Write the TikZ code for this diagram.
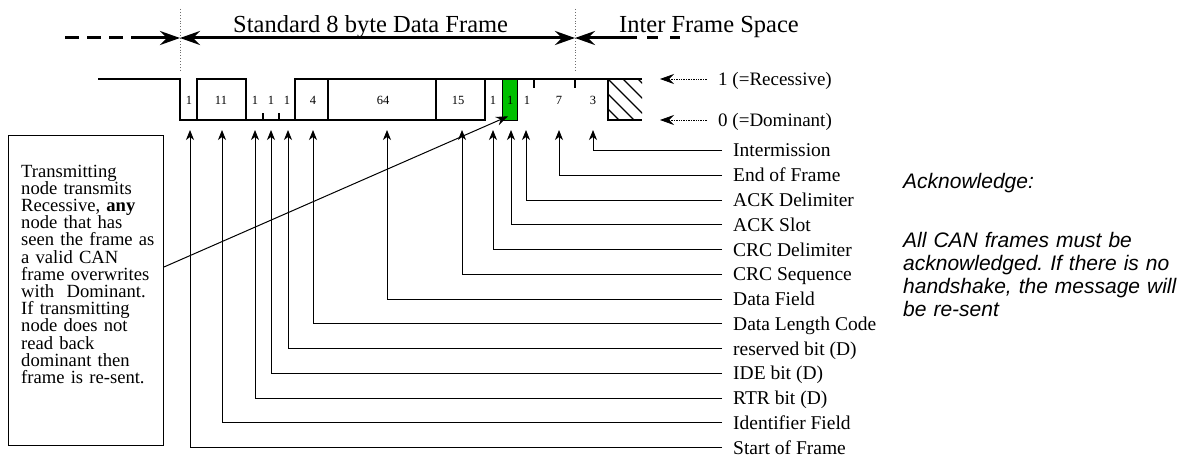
\documentclass[tikz,border=0pt]{standalone}
\usepackage{fontspec}
\setmainfont{Liberation Serif}
\newfontfamily\arialfont{Liberation Sans}
\usetikzlibrary{arrows.meta}
\definecolor{ackgreen}{RGB}{0,192,0}
\definecolor{dotgray}{RGB}{110,110,110}
\frenchspacing
\tikzset{
  sig/.style={line width=1.3pt, line join=miter},
  lead/.style={line width=0.9pt, -{Stealth[length=10pt,width=8pt,inset=3pt]}},
  lbl/.style={anchor=west, inner xsep=11pt, inner ysep=0pt, text height=13pt, text depth=0pt, font=\fontsize{19.5}{24}\selectfont},
  bitnum/.style={font=\fontsize{12.5}{14}\selectfont, inner sep=0pt},
  bigline/.style={line width=3pt},
  bigtip/.tip={Stealth[length=20pt,width=14pt,inset=7pt]},
  lvl/.style={densely dotted, line width=0.7pt, -{Stealth[length=14pt,width=10pt,inset=5pt]}},
  lvllbl/.style={anchor=west, inner xsep=11pt, inner ysep=0pt, text height=13pt, text depth=0pt, font=\fontsize{19}{24}\selectfont},
  title/.style={font=\fontsize{24.5}{28}\selectfont, inner sep=0pt, anchor=base west},
  divider/.style={dotted, dotgray, line width=0.9pt},
}
\begin{document}
\begin{tikzpicture}[x=1pt,y=-1pt]
\useasboundingbox (0,0) rectangle (1186,457);

% titles
\node[title] (tframe) at (233,33) {Standard 8 byte Data Frame};
\node[title] (tifs) at (619,33) {Inter Frame Space};

% dotted dividers
\draw[divider] (180,9) -- (180,72);
\draw[divider] (575,9) -- (575,72);

% big arrows
\coordinate (sofline) at (180,38);
\coordinate (eofline) at (575,38);
\coordinate (ldash) at (65,38);
\coordinate (lsolid) at (132,38);
\coordinate (rsolid) at (637,38);
\coordinate (rdash) at (647,38);
\coordinate (rend) at (680,38);
\draw[bigline, dash pattern=on 14pt off 8pt] (ldash) -- (lsolid);
\draw[bigline, -bigtip] (lsolid) -- (sofline);
\draw[bigline, bigtip-bigtip] (sofline) -- (eofline);
\draw[bigline, bigtip-] (eofline) -- (rsolid);
\draw[bigline, dash pattern=on 11pt off 12pt] (rdash) -- (rend);

% signal
\draw[sig] (98,79) -- (180,79) -- (180,120) -- (197,120) -- (197,79) -- (246,79) -- (246,120) -- (295,120) -- (295,79) -- (642,79);
\draw[sig] (197,120) -- (246,120);
\draw[sig] (295,120) -- (485,120) -- (485,79);
\draw[sig] (328,79) -- (328,120);
\draw[sig] (436,79) -- (436,120);
\draw[sig] (263,120) -- (263,113);
\draw[sig] (279,120) -- (279,113);
\draw[sig] (534,79) -- (534,88);
\draw[sig] (575,79) -- (575,88);
\node[draw, fill=ackgreen, line width=1.3pt, minimum width=15pt, minimum height=41pt, inner sep=0pt, anchor=north west] (ack) at (502,79) {};
\draw[sig] (608,79) -- (608,120) -- (642,120);
\begin{scope}
  \clip (608,79) rectangle (642,120);
  \foreach \s in {578,593,608,623,638} {
    \draw[line width=1.2pt] (\s,79) -- (\s+45,124);
  }
\end{scope}

% bit numbers
\node[bitnum] (b1) at (189,100) {1};
\node[bitnum] (b2) at (221,100) {11};
\node[bitnum] (b3) at (255,100) {1};
\node[bitnum] (b4) at (271,100) {1};
\node[bitnum] (b5) at (287,100) {1};
\node[bitnum] (b6) at (313,100) {4};
\node[bitnum] (b7) at (383,100) {64};
\node[bitnum] (b8) at (458,100) {15};
\node[bitnum] (b9) at (493,100) {1};
\node[bitnum] (b10) at (ack) {1};
\node[bitnum] (b11) at (527,100) {1};
\node[bitnum] (b12) at (559,100) {7};
\node[bitnum] (b13) at (593,100) {3};

% level labels
\node[lvllbl] (rec) at (707,79) {1 (=Recessive)};
\node[lvllbl] (dom) at (707,120) {0 (=Dominant)};
\coordinate (rectip) at (660,79);
\coordinate (domtip) at (660,120);
\draw[lvl] (rec.west) -- (rectip);
\draw[lvl] (dom.west) -- (domtip);

% field labels with leader arrows
\foreach \x/\t [count=\k from 0] in {593/{Intermission}, 559/{End of Frame}, 526/{ACK Delimiter}, 511/{ACK Slot}, 493/{CRC Delimiter}, 462/{CRC Sequence}, 387/{Data Field}, 313/{Data Length Code}, 288/{reserved bit (D)}, 271/{IDE bit (D)}, 255/{RTR bit (D)}, 222/{Identifier Field}, 190/{Start of Frame}} {
  \node[lbl] (lab\k) at (722,150.5+24.75*\k) {\t};
  \coordinate (tip\k) at (\x,130);
  \draw[lead] (lab\k.west) -| (tip\k);
}

% note box
\node[draw, line width=1pt, minimum width=155pt, minimum height=310pt, inner sep=0pt, anchor=north west] (note) at (8,135) {};
\node[anchor=north west, inner sep=0pt, text width=145pt, align=left, font=\fontsize{18.6}{17.2}\selectfont] (notetext) at (21,164.5) {Transmitting\\node transmits\\Recessive, \textbf{any}\\node that has\\seen the frame as\\a valid CAN\\frame overwrites\\with~ Dominant.\\If transmitting\\node does not\\read back\\dominant then\\frame is re-sent.};
\coordinate (acktip) at ([shift={(6,-5)}]ack.south west);
\draw[line width=1pt, -{Stealth[length=12pt,width=9pt,inset=4pt]}] (note.north east) ++(0,132) -- (acktip);

% acknowledge text
\node[anchor=base west, inner sep=0pt, font=\arialfont\itshape\fontsize{21}{23}\selectfont] (acktitle) at (903,189) {Acknowledge:};
\node[anchor=north west, inner sep=0pt, text width=280pt, align=left, font=\arialfont\itshape\fontsize{21}{23}\selectfont] (ackbody) at (903,231.7) {All CAN frames must be\\acknowledged. If there is no\\handshake, the message will\\be re-sent};
\end{tikzpicture}
\end{document}
